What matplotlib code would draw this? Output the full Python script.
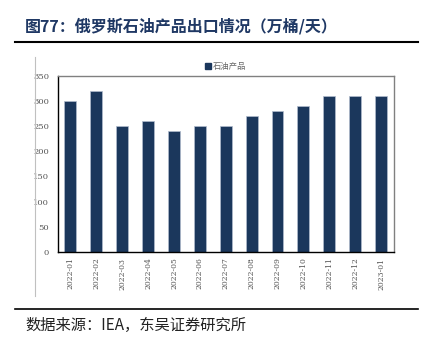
import matplotlib
matplotlib.use("Agg")
import matplotlib.pyplot as plt
from matplotlib.lines import Line2D
from matplotlib.patches import Patch

plt.rcParams['font.family'] = ['Noto Sans CJK SC', 'DejaVu Sans']

months = ["2022-01", "2022-02", "2022-03", "2022-04", "2022-05", "2022-06", "2022-07",
          "2022-08", "2022-09", "2022-10", "2022-11", "2022-12", "2023-01"]
exports = [300, 320, 250, 260, 240, 250, 250, 270, 280, 290, 310, 310, 310]
yticks = [0, 50, 100, 150, 200, 250, 300, 350]

navy = "#1b375c"
W, H = 427, 343
fig = plt.figure(figsize=(W / 100, H / 100), dpi=100)

# title and frame lines
fig.text(25 / W, 1 - 26.5 / H, "图77：俄罗斯石油产品出口情况（万桶/天）", fontsize=11.5,
         fontweight="bold", color="#1f3864", va="center", ha="left")
fig.add_artist(Line2D([15 / W, 418 / W], [1 - 42 / H] * 2, color="black", lw=1.5))
fig.add_artist(Line2D([15 / W, 418 / W], [1 - 309 / H] * 2, color="black", lw=1.2))
fig.add_artist(Line2D([35 / W, 35 / W], [1 - 57 / H, 1 - 296 / H], color="#c0c0c0", lw=0.8))
fig.text(25 / W, 1 - 325 / H, "数据来源：IEA，东吴证券研究所", fontsize=11,
         color="#222222", va="center", ha="left")

ax = fig.add_axes([57.5 / W, 1 - 252 / H, (394 - 57.5) / W, (252 - 75.7) / H])
x = range(len(months))
ax.bar(x, exports, width=0.46, color=navy, edgecolor="#b0bccd", linewidth=0.5)
ax.set_xlim(-0.5, len(months) - 0.5)
ax.set_ylim(0, 350)
ax.set_yticks(yticks)
ax.set_yticklabels([str(v) for v in yticks], fontsize=6, color="#555555", family="serif")
ax.set_xticks(list(x))
ax.set_xticklabels(months, rotation=90, fontsize=5.5, color="#555555", family="serif")
ax.tick_params(axis="y", length=0, pad=6)
ax.tick_params(axis="x", length=0, pad=4)
for s in ["top", "right"]:
    ax.spines[s].set_color("#808080")
    ax.spines[s].set_linewidth(1.0)
for s in ["bottom", "left"]:
    ax.spines[s].set_color("black")
    ax.spines[s].set_linewidth(1.0)

ax.legend(handles=[Patch(color=navy, label="石油产品")], loc="lower center",
          bbox_to_anchor=(0.5, 1.0), frameon=False, fontsize=6, handlelength=0.7,
          handleheight=0.7, handletextpad=0.2, borderpad=0.1, labelcolor="#666666")

fig.savefig("out.png", dpi=100)
